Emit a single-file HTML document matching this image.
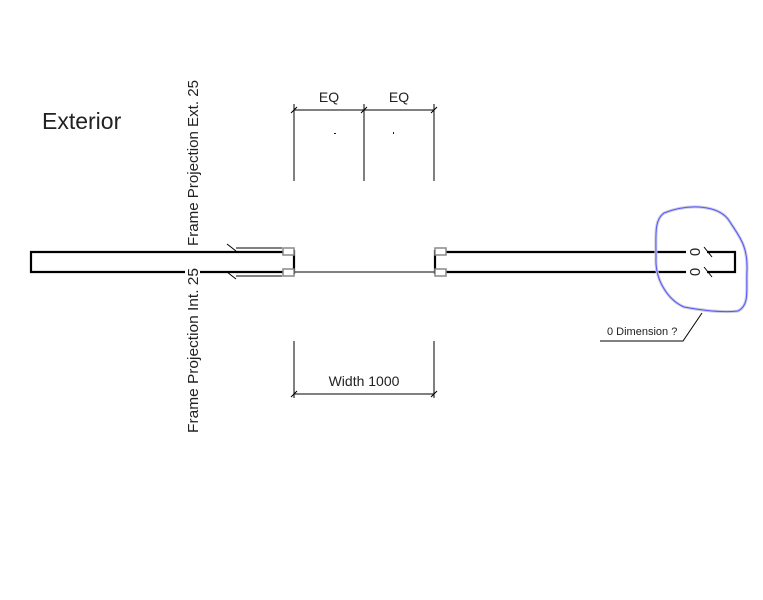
<!DOCTYPE html>
<html><head><style>
html,body{margin:0;padding:0;background:#fff;width:763px;height:600px;overflow:hidden}
svg text{font-family:"Liberation Sans",sans-serif;fill:#222}
</style></head><body>
<svg width="763" height="600" viewBox="0 0 763 600" xmlns="http://www.w3.org/2000/svg">
<text x="42" y="129" font-size="23">Exterior</text>
<g stroke="#000" stroke-width="2.2" fill="none">
<path d="M294 252 H31 V272 H185"/>
<path d="M200 272 H294"/>
<path d="M294 250 V274"/>
<path d="M435 250 V274"/>
<path d="M435 252 H686"/>
<path d="M435 272 H686"/>
<path d="M707 252 H735 V272 H707"/>
</g>
<g stroke="#000" stroke-width="1" fill="none">
<path d="M294 272 H435"/>
<path d="M236 248 H282 M236 276 H282"/>
<path d="M227 244 L236 251 M227 272 L236 279"/>
<path d="M704 247 L712 257 M704 267 L712 277"/>
<path d="M294 104 V181 M364 104 V181 M434 104 V181 M294 110 H434"/>
<path d="M291 113 L297 107 M361 113 L367 107 M431 113 L437 107"/>
<path d="M294 341 V398 M434 341 V398 M294 394 H434"/>
<path d="M291 397 L297 391 M431 397 L437 391"/>
<path d="M600 341 H683 L702 313"/>
</g>
<g fill="#fff" stroke="#888" stroke-width="1.5">
<rect x="283" y="248" width="11" height="7"/>
<rect x="283" y="269" width="11" height="7"/>
<rect x="435" y="248" width="11" height="7"/>
<rect x="435" y="269" width="11" height="7"/>
</g>
<rect x="334" y="133" width="2" height="1" fill="#00f"/>
<rect x="393" y="132" width="1" height="2" fill="#00f"/>
<text x="329" y="102" font-size="14" text-anchor="middle">EQ</text>
<text x="399" y="102" font-size="14" text-anchor="middle">EQ</text>
<text x="364" y="386" font-size="14" text-anchor="middle">Width 1000</text>
<text transform="translate(198,246) rotate(-90)" font-size="15" textLength="166" lengthAdjust="spacingAndGlyphs">Frame Projection Ext. 25</text>
<text transform="translate(198,433) rotate(-90)" font-size="15" textLength="165" lengthAdjust="spacingAndGlyphs">Frame Projection Int. 25</text>
<text transform="translate(700,252) rotate(-90)" font-size="15" text-anchor="middle">0</text>
<text transform="translate(700,272) rotate(-90)" font-size="15" text-anchor="middle">0</text>
<text x="607" y="335" font-size="11">0 Dimension ?</text>
<path d="M664 213 C690 203 720 205 730 222 C738 235 748 245 747 270 C746 290 750 305 738 311 C720 313 700 310 684 307 C668 300 655 280 656 258 C656 235 654 220 664 213 Z" fill="none" stroke="#ccd" stroke-width="3"/>
<path d="M664 213 C690 203 720 205 730 222 C738 235 748 245 747 270 C746 290 750 305 738 311 C720 313 700 310 684 307 C668 300 655 280 656 258 C656 235 654 220 664 213 Z" fill="none" stroke="#55f" stroke-width="1"/>
</svg>
</body></html>
